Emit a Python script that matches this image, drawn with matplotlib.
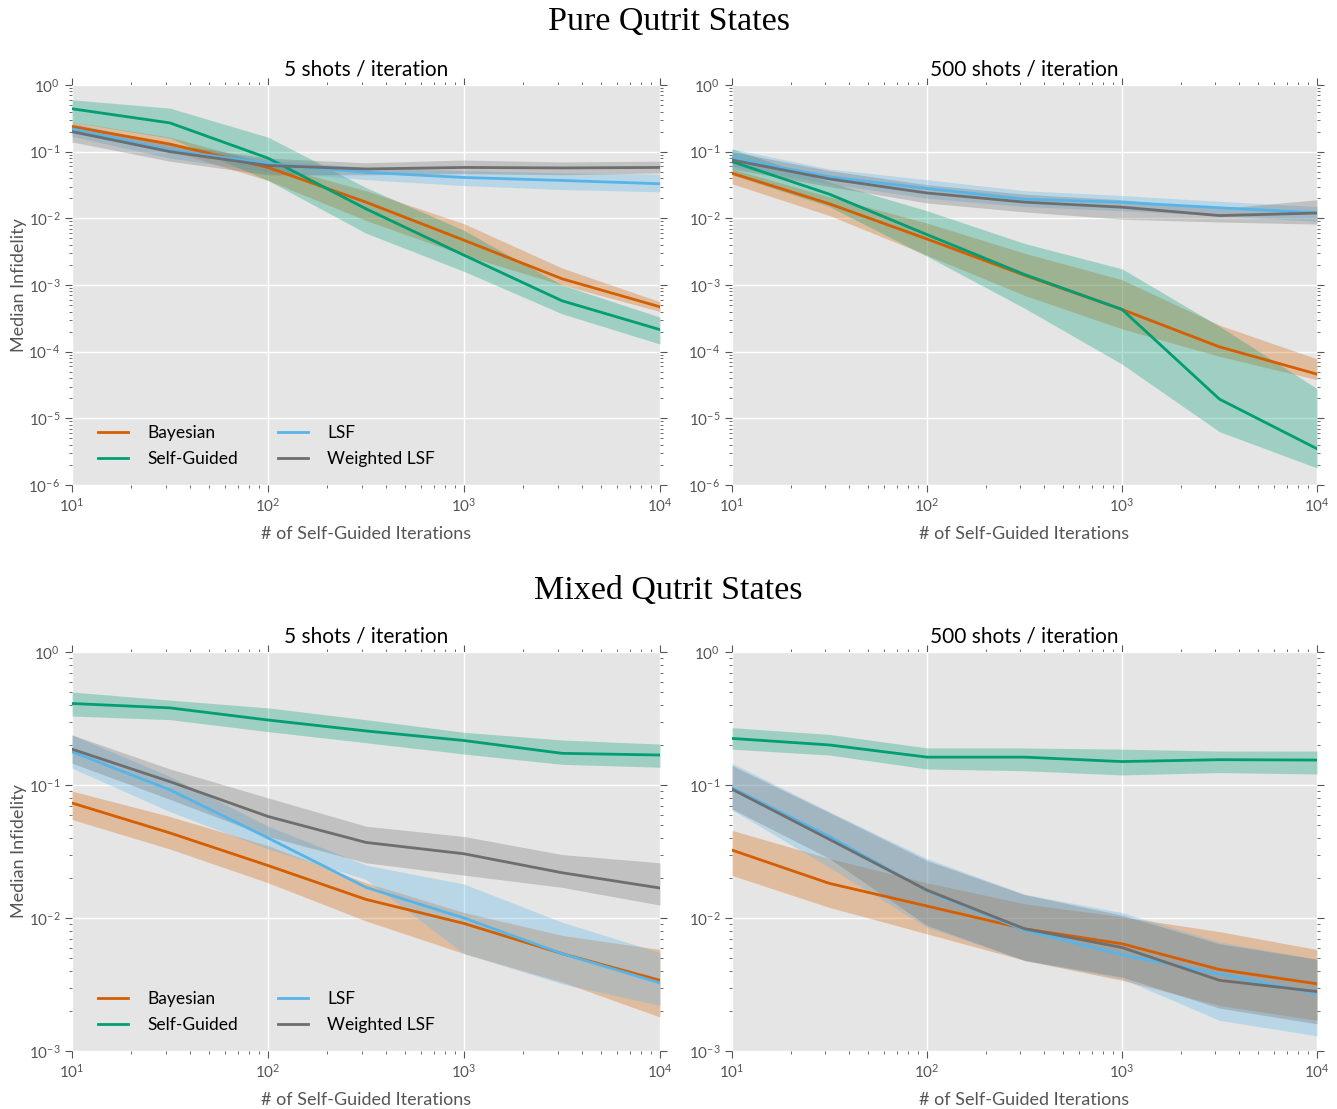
import numpy as np
import matplotlib
matplotlib.use("Agg")
import matplotlib.pyplot as plt
from matplotlib.ticker import LogLocator, NullFormatter

plt.rcParams['font.family'] = ['Lato', 'DejaVu Sans']
plt.rcParams['mathtext.default'] = 'regular'

# ---------------------------------
# DATA
# ---------------------------------
iters = [10, 31.6, 100, 316, 1000, 3162, 10000]
methods = ["Bayesian", "Self-Guided", "LSF", "Weighted LSF"]
colors = {"Bayesian": "#D55E00", "Self-Guided": "#009E73",
          "LSF": "#56B4E9", "Weighted LSF": "#6e6e6e"}

# pure states, 5 shots
pure5_med = {
    "Bayesian":     [0.238, 0.13, 0.058, 0.0175, 0.0047, 0.00124, 0.00047],
    "Self-Guided":  [0.44, 0.27, 0.08, 0.0139, 0.0028, 0.00058, 0.000214],
    "LSF":          [0.22, 0.106, 0.066, 0.049, 0.041, 0.037, 0.033],
    "Weighted LSF": [0.2, 0.1, 0.062, 0.055, 0.058, 0.057, 0.058],
}
pure5_lo = {
    "Bayesian":     [0.19, 0.104, 0.037, 0.0093, 0.0028, 0.001, 0.0004],
    "Self-Guided":  [0.276, 0.16, 0.037, 0.006, 0.0016, 0.00037, 0.00013],
    "LSF":          [0.17, 0.08, 0.05, 0.038, 0.031, 0.027, 0.025],
    "Weighted LSF": [0.14, 0.072, 0.045, 0.045, 0.047, 0.045, 0.048],
}
pure5_hi = {
    "Bayesian":     [0.28, 0.165, 0.066, 0.026, 0.0083, 0.0018, 0.00056],
    "Self-Guided":  [0.6, 0.45, 0.165, 0.029, 0.0066, 0.001, 0.00033],
    "LSF":          [0.27, 0.13, 0.075, 0.058, 0.052, 0.048, 0.046],
    "Weighted LSF": [0.26, 0.13, 0.08, 0.068, 0.075, 0.07, 0.072],
}

# pure states, 500 shots
pure500_med = {
    "Bayesian":     [0.0475, 0.0165, 0.0049, 0.0014, 0.00043, 0.000118, 0.000046],
    "Self-Guided":  [0.071, 0.023, 0.0057, 0.00144, 0.00043, 1.94e-5, 3.5e-6],
    "LSF":          [0.08, 0.042, 0.028, 0.0194, 0.0174, 0.0144, 0.0121],
    "Weighted LSF": [0.075, 0.039, 0.024, 0.0175, 0.0147, 0.011, 0.012],
}
pure500_lo = {
    "Bayesian":     [0.033, 0.011, 0.0028, 0.0007, 0.00022, 0.000085, 0.000038],
    "Self-Guided":  [0.045, 0.015, 0.0027, 0.00045, 0.000065, 6.3e-6, 1.8e-6],
    "LSF":          [0.06, 0.033, 0.02, 0.015, 0.013, 0.011, 0.009],
    "Weighted LSF": [0.055, 0.03, 0.017, 0.0125, 0.0097, 0.0088, 0.0082],
}
pure500_hi = {
    "Bayesian":     [0.055, 0.021, 0.0085, 0.003, 0.0012, 0.00025, 0.000078],
    "Self-Guided":  [0.11, 0.035, 0.013, 0.0042, 0.00175, 0.00024, 2.8e-5],
    "LSF":          [0.11, 0.055, 0.038, 0.026, 0.022, 0.018, 0.015],
    "Weighted LSF": [0.1, 0.052, 0.032, 0.023, 0.019, 0.014, 0.019],
}

# mixed states, 5 shots
mixed5_med = {
    "Bayesian":     [0.0732, 0.0436, 0.0248, 0.0138, 0.0091, 0.0054, 0.0034],
    "Self-Guided":  [0.41, 0.38, 0.308, 0.255, 0.216, 0.173, 0.168],
    "LSF":          [0.178, 0.092, 0.04, 0.017, 0.01, 0.0054, 0.00325],
    "Weighted LSF": [0.186, 0.106, 0.058, 0.037, 0.0304, 0.0219, 0.0168],
}
mixed5_lo = {
    "Bayesian":     [0.055, 0.033, 0.0184, 0.0095, 0.0054, 0.0033, 0.0018],
    "Self-Guided":  [0.33, 0.31, 0.252, 0.208, 0.171, 0.143, 0.136],
    "LSF":          [0.134, 0.063, 0.033, 0.0195, 0.0054, 0.0032, 0.0022],
    "Weighted LSF": [0.146, 0.078, 0.041, 0.026, 0.021, 0.017, 0.0125],
}
mixed5_hi = {
    "Bayesian":     [0.09, 0.058, 0.035, 0.0184, 0.011, 0.0074, 0.0058],
    "Self-Guided":  [0.5, 0.435, 0.38, 0.31, 0.249, 0.218, 0.203],
    "LSF":          [0.238, 0.116, 0.049, 0.025, 0.018, 0.0093, 0.0055],
    "Weighted LSF": [0.238, 0.132, 0.08, 0.049, 0.041, 0.03, 0.026],
}

# mixed states, 500 shots
mixed500_med = {
    "Bayesian":     [0.0324, 0.0182, 0.0123, 0.0083, 0.0064, 0.0041, 0.0032],
    "Self-Guided":  [0.224, 0.2, 0.162, 0.162, 0.15, 0.155, 0.154],
    "LSF":          [0.095, 0.041, 0.016, 0.0081, 0.0053, 0.0038, 0.0027],
    "Weighted LSF": [0.093, 0.039, 0.0162, 0.0083, 0.006, 0.0034, 0.0028],
}
mixed500_lo = {
    "Bayesian":     [0.0209, 0.012, 0.0076, 0.0048, 0.0034, 0.0022, 0.0017],
    "Self-Guided":  [0.186, 0.168, 0.132, 0.128, 0.119, 0.124, 0.121],
    "LSF":          [0.065, 0.024, 0.0085, 0.0048, 0.0035, 0.0017, 0.0013],
    "Weighted LSF": [0.066, 0.028, 0.0088, 0.0048, 0.0036, 0.0021, 0.0016],
}
mixed500_hi = {
    "Bayesian":     [0.0456, 0.028, 0.0184, 0.0128, 0.0102, 0.0079, 0.0058],
    "Self-Guided":  [0.27, 0.24, 0.19, 0.19, 0.186, 0.18, 0.18],
    "LSF":          [0.146, 0.063, 0.028, 0.0151, 0.011, 0.0066, 0.0049],
    "Weighted LSF": [0.14, 0.062, 0.027, 0.015, 0.0105, 0.0064, 0.0049],
}

panels = [
    # (axes rect, title, med, lo, hi, ylim, ylabel, legend)
    ([72/1337, 1-485/1109, 588/1337, 400/1109], "5 shots / iteration",
     pure5_med, pure5_lo, pure5_hi, (1e-6, 1), True, True),
    ([732/1337, 1-485/1109, 585/1337, 400/1109], "500 shots / iteration",
     pure500_med, pure500_lo, pure500_hi, (1e-6, 1), False, False),
    ([72/1337, 1-1051/1109, 588/1337, 399/1109], "5 shots / iteration",
     mixed5_med, mixed5_lo, mixed5_hi, (1e-3, 1), True, True),
    ([732/1337, 1-1051/1109, 585/1337, 399/1109], "500 shots / iteration",
     mixed500_med, mixed500_lo, mixed500_hi, (1e-3, 1), False, False),
]

fig = plt.figure(figsize=(13.37, 11.09), dpi=100)

for rect, title, med, lo, hi, ylim, ylab, leg in panels:
    ax = fig.add_axes(rect)
    ax.set_facecolor("#e5e5e5")
    for m in methods:
        ax.fill_between(iters, lo[m], hi[m], color=colors[m], alpha=0.3, linewidth=0)
    for m in methods:
        ax.plot(iters, med[m], color=colors[m], linewidth=2, label=m)
    ax.set_xscale("log")
    ax.set_yscale("log")
    ax.set_xlim(10, 1e4)
    ax.set_ylim(*ylim)
    ax.yaxis.set_major_locator(LogLocator(base=10, numticks=20))
    ax.yaxis.set_minor_locator(LogLocator(base=10, subs=np.arange(2, 10), numticks=20))
    ax.yaxis.set_minor_formatter(NullFormatter())
    ax.grid(True, which="major", color="white", linewidth=1)
    ax.set_axisbelow(True)
    for s in ax.spines.values():
        s.set_visible(False)
    ax.tick_params(which="both", direction="out", top=True, right=True,
                   color="#555555", labelcolor="#555555", labelsize=11)
    ax.tick_params(which="major", length=5)
    ax.tick_params(which="minor", length=2.5)
    ax.set_title(title, fontsize=15, pad=7)
    ax.set_xlabel("# of Self-Guided Iterations", fontsize=13, color="#555555",
                  labelpad=8)
    if ylab:
        ax.set_ylabel("Median Infidelity", fontsize=13, color="#555555",
                      labelpad=1)
    if leg:
        ax.legend(loc="lower left", bbox_to_anchor=(0.032, 0.027), ncol=2,
                  frameon=False, fontsize=12.5, handlelength=1.75,
                  handletextpad=1.1, columnspacing=2.3, labelspacing=0.6,
                  borderaxespad=0)

fig.text(0.5, 1-22/1109, "Pure Qutrit States", ha="center", va="center",
         fontsize=24.5, family="Liberation Serif")
fig.text(0.5, 1-591/1109, "Mixed Qutrit States", ha="center", va="center",
         fontsize=24.5, family="Liberation Serif")

plt.savefig("out.png", dpi=100)
